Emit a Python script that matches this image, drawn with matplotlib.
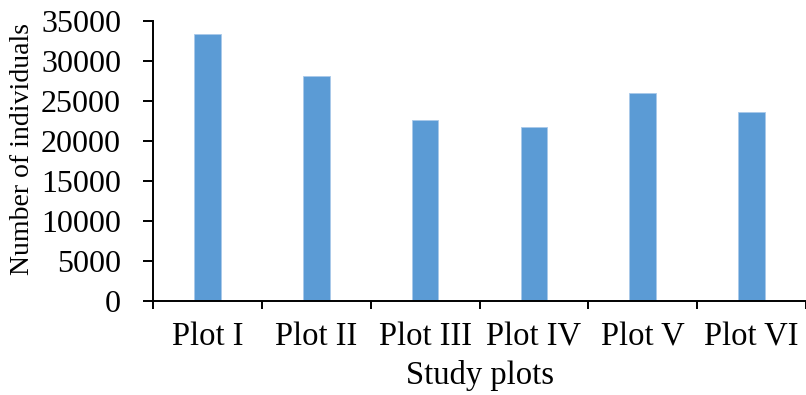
import matplotlib
matplotlib.use("Agg")
import matplotlib.pyplot as plt
import numpy as np

categories = ["Plot I", "Plot II", "Plot III", "Plot IV", "Plot V", "Plot VI"]
individuals = [33300, 28100, 22600, 21700, 25900, 23600]
y_ticks = [0, 5000, 10000, 15000, 20000, 25000, 30000, 35000]

plt.rcParams["font.family"] = ["Liberation Serif", "DejaVu Serif"]

fig = plt.figure(figsize=(8.06, 3.95), dpi=100)
ax = fig.add_axes([153 / 806, 1 - 300.7 / 395, 1 - 153 / 806, 280 / 395])

x = np.arange(len(categories))
ax.bar(x, individuals, width=0.245, color="#5B9BD5",
       edgecolor="#A9C9EA", linewidth=0.6, zorder=2)

ax.set_xlim(-0.5, len(categories) - 0.5)
ax.set_ylim(0, 35000)
ax.set_yticks(y_ticks)
ax.set_yticklabels([str(v) for v in y_ticks])

# Category labels sit between boundary ticks
ax.set_xticks(np.arange(len(categories) + 1) - 0.5)
ax.set_xticklabels([])
ax.set_xticks(x, minor=True)
ax.set_xticklabels(categories, minor=True)
ax.tick_params(axis="x", which="minor", length=0, pad=15, labelsize=23.5)
ax.tick_params(axis="x", which="major", direction="out", length=6, width=1.4)
ax.tick_params(axis="y", direction="out", length=7, width=1.4, pad=16, labelsize=23)

for side in ("top", "right"):
    ax.spines[side].set_visible(False)
for side in ("left", "bottom"):
    ax.spines[side].set_linewidth(1.4)
    ax.spines[side].set_color("#000000")

ax.set_ylabel("Number of individuals", fontsize=20)
ax.yaxis.set_label_coords(-0.18, 0.542)
ax.set_xlabel("Study plots", fontsize=23.5, labelpad=6)

fig.savefig("out.png", dpi=100)
